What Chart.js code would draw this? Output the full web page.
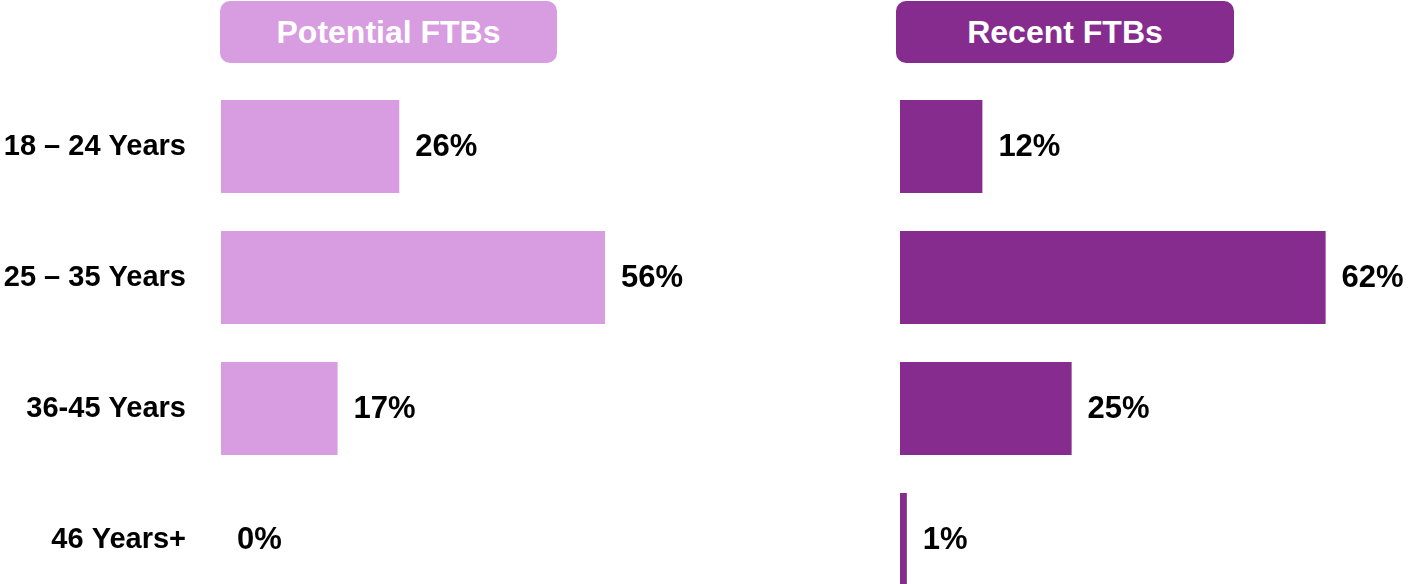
<!DOCTYPE html>
<html>
<head>
<meta charset="utf-8">
<script src="https://cdn.jsdelivr.net/npm/chart.js@4.4.1/dist/chart.umd.min.js"></script>
<style>
  html, body { margin: 0; padding: 0; background: #fff; overflow: hidden; width: 1408px; height: 584px; }
  .wrap { position: relative; width: 1408px; height: 584px; font-family: "Liberation Sans", Arial, sans-serif; }
  canvas { position: absolute; top: 0; }
  #left { left: 0; }
  #right { left: 900px; }
  .head {
    position: absolute; top: 1px; height: 62px; border-radius: 10px;
    color: #fff; font-weight: bold; font-size: 32px; line-height: 62px; text-align: center;
  }
  #headLeft { left: 220px; width: 337px; background: #d89ce0; }
  #headRight { left: 896px; width: 338px; background: #852c8e; }
</style>
</head>
<body>
<div class="wrap">
  <div class="head" id="headLeft">Potential FTBs</div>
  <div class="head" id="headRight">Recent FTBs</div>
  <canvas id="left" width="701" height="605"></canvas>
  <canvas id="right" width="508" height="605"></canvas>
</div>
<script>
const ageGroups = ['18 – 24 Years', '25 – 35 Years', '36-45 Years', '46 Years+']
const potentialFTBs = [26, 56, 17, 0]
const recentFTBs = [12, 62, 25, 1]

const FONT = '"Liberation Sans", Arial, sans-serif'
const LIGHT = '#d89ce0'
const DARK = '#852c8e'

// write "NN%" just past the end of each bar
const valueLabels = {
  id: 'valueLabels',
  afterDatasetsDraw(chart) {
    const ctx = chart.ctx
    const ds = chart.data.datasets[0]
    const meta = chart.getDatasetMeta(0)
    ctx.save()
    ctx.font = 'bold 31px ' + FONT
    ctx.fillStyle = '#000'
    ctx.textAlign = 'left'
    ctx.textBaseline = 'middle'
    meta.data.forEach((bar, i) => {
      ctx.fillText(ds.data[i] + '%', bar.x + 16, bar.y + 1)
    })
    ctx.restore()
  },
}

function buildChart(id, values, color, xMax, showLabels) {
  return new Chart(document.getElementById(id), {
    type: 'bar',
    data: {
      labels: ageGroups,
      datasets: [
        {
          data: values,
          backgroundColor: color,
          borderWidth: 0,
          barPercentage: 0.71,
          categoryPercentage: 1,
        },
      ],
    },
    options: {
      indexAxis: 'y',
      responsive: false,
      animation: false,
      events: [],
      layout: { padding: { top: 81, left: 0, right: 0, bottom: 0 } },
      plugins: { legend: { display: false }, tooltip: { enabled: false } },
      scales: {
        x: { display: false, min: 0, max: xMax },
        y: {
          display: showLabels,
          grid: { display: false, drawTicks: false },
          border: { display: false },
          ticks: { color: '#000', padding: 35, font: { family: FONT, size: 29, weight: 'bold' } },
          afterFit: (scale) => {
            if (!showLabels) return
            scale.width = 221
            scale.paddingTop = 0
            scale.paddingBottom = 0
          },
        },
      },
    },
    plugins: [valueLabels],
  })
}

buildChart('left', potentialFTBs, LIGHT, 70, true)
buildChart('right', recentFTBs, DARK, 74, false)
</script>
</body>
</html>
